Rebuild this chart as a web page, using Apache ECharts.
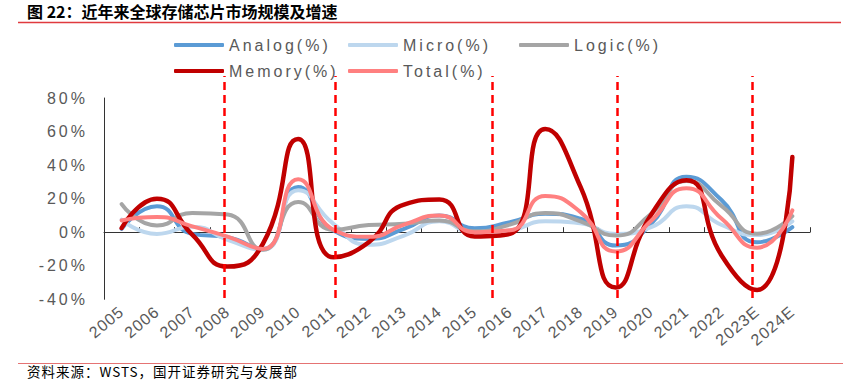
<!DOCTYPE html>
<html><head><meta charset="utf-8">
<script src="https://cdn.jsdelivr.net/npm/echarts@6/dist/echarts.min.js"></script>
<style>
html,body{margin:0;padding:0;background:#fff;}
#chart{width:843px;height:384px;}
#chart text[style*="Liberation Sans"]{letter-spacing:3px;}
#chart text[style*="Arial"]{letter-spacing:1px;}
#chart text[style*="DejaVu"]{letter-spacing:1px;}
</style></head><body><div id="chart"></div>
<script>
const years = ['2005','2006','2007','2008','2009','2010','2011','2012','2013','2014','2015','2016','2017','2018','2019','2020','2021','2022','2023E','2024E'];
const analog = [2, 15.5, -1, -3, -10, 27, 1, -4, 2, 10, 2.4, 6, 11, 8, -8, 5, 33, 19, -6, 3];
const micro  = [7.5, -1, 3.3, -4.6, -10.5, 25, 5, -7.5, -2, 6.5, -0.5, 1, 6.5, 5.3, -1, 3, 15.5, 4.3, -1.7, 6.5];
const logic  = [16.8, 4, 11.5, 10.5, -10.5, 18, 1.4, 4.3, 5, 7, 0.5, 4.5, 11.5, 6.5, -2, 11, 30.5, 15.5, -0.9, 9.6];
const memory = [2.5, 20, -1.5, -20.5, -7, 55.5, -15, -6, 16.5, 19.5, -2.5, -1, 61.5, 27, -33, 10.4, 31, -14, -34.5, 44.8];
const total  = [7, 9, 3.5, -2.6, -10, 31.5, 1.5, -2.7, 4.5, 10, 0, 1.1, 21.6, 12, -11.5, 6.8, 26.2, 8, -9.2, 13];
const seriesNames = ['Analog(%)','Micro(%)','Logic(%)','Memory(%)','Total(%)'];
const seriesData = [analog, micro, logic, memory, total];
const seriesColors = ['#5B9BD5','#BDD7EE','#A5A5A5','#C00000','#FF8080'];
const cycleMarkers = [2.9, 6.05, 10.5, 14.05, 17.85]; // category-index positions of dashed red lines
const yMin = -40, yMax = 80, yStep = 20;

const legendPos = [[174,37],[348,37],[519,37],[174,63],[348,63]];
const chart = echarts.init(document.getElementById('chart'), null, {renderer:'svg'});
const option = {
  animation:false,
  backgroundColor:'#fff',
  title:[
    {text:'图 22：近年来全球存储芯片市场规模及增速', left:27, top:3, padding:0,
     textStyle:{fontSize:16, fontWeight:'bold', color:'#000', fontFamily:'Noto Sans CJK SC'}},
    {text:'资料来源：WSTS，国开证券研究与发展部', left:27, top:364, padding:0,
     textStyle:{fontSize:13.5, fontWeight:'normal', color:'#000', fontFamily:'Noto Sans CJK SC, DejaVu Sans'}}
  ],
  graphic:[
    {type:'line', shape:{x1:18,y1:22.5,x2:841,y2:22.5}, style:{stroke:'#E03A3E', lineWidth:1.5}, silent:true},
    {type:'line', shape:{x1:18,y1:363.5,x2:843,y2:363.5}, style:{stroke:'#E57373', lineWidth:1}, silent:true}
  ],
  legend: seriesNames.map((n,i)=>({
    data:[n], left:legendPos[i][0], top:legendPos[i][1], padding:0,
    itemWidth:50, itemHeight:4, icon:'roundRect', selectedMode:false,
    textStyle:{fontSize:16, color:'#595959', fontFamily:'Liberation Sans'}
  })),
  grid:[
    {left:104, right:33, top:98, bottom:84.7},
    {left:104, right:33, top:76, bottom:86}
  ],
  xAxis:[
    {type:'category', gridIndex:0, data:years, boundaryGap:true,
     axisLine:{lineStyle:{color:'#333', width:1}},
     axisTick:{show:true, inside:true, length:5, interval:0, lineStyle:{color:'#333'}},
     axisLabel:{interval:0, rotate:40, margin:10, fontSize:16, color:'#595959', fontFamily:'Liberation Sans, Arial'},
     splitLine:{show:false}},
    {type:'value', gridIndex:1, min:-0.5, max:19.5, show:false}
  ],
  yAxis:[
    {type:'value', gridIndex:0, min:yMin, max:yMax, interval:yStep,
     axisLine:{show:true, lineStyle:{color:'#333', width:1}},
     axisTick:{show:false},
     splitLine:{show:false},
     axisLabel:{formatter:'{value}%', fontSize:16, color:'#595959', margin:16, fontFamily:'Liberation Sans'}},
    {type:'value', gridIndex:1, min:0, max:1, show:false}
  ],
  series: seriesNames.map((n,i)=>({
    name:n, type:'line', data:seriesData[i], smooth:0.55, symbol:'none',
    xAxisIndex:0, yAxisIndex:0,
    lineStyle:{width: i===3 ? 4.5 : 4, color:seriesColors[i], cap:'round'},
    itemStyle:{color:seriesColors[i]},
    emphasis:{disabled:true}
  })).concat([{
    type:'line', xAxisIndex:1, yAxisIndex:1, data:[[0,0]], symbol:'none',
    lineStyle:{opacity:0}, silent:true,
    markLine:{silent:true, symbol:'none', label:{show:false},
      lineStyle:{type:[8,5], color:'#FF0000', width:2.5},
      emphasis:{disabled:true},
      data: cycleMarkers.map(v=>({xAxis:v}))}
  }])
};
chart.setOption(option);
</script></body></html>
